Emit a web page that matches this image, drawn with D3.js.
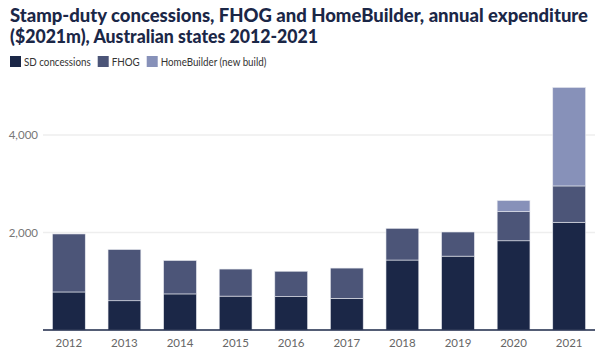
<!DOCTYPE html>
<html>
<head>
<meta charset="utf-8">
<script src="https://cdn.jsdelivr.net/npm/d3@7"></script>
<style>
  body { margin: 0; background: #fff; }
  svg { display: block; font-family: Lato, "Open Sans", sans-serif; }
</style>
</head>
<body>
<script>
// data ($2021m)
const years = ["2012","2013","2014","2015","2016","2017","2018","2019","2020","2021"];
const sdConcessions = [780, 600, 740, 695, 685, 650, 1435, 1515, 1830, 2210];
const fhog = [1190, 1050, 685, 555, 520, 620, 650, 495, 600, 745];
const homeBuilder = [0, 0, 0, 0, 0, 0, 0, 0, 225, 2020];
const yTicks = [2000, 4000];

const seriesKeys = ["SD concessions", "FHOG", "HomeBuilder (new build)"];
const colors = ["#1b2747", "#4c5578", "#8791b9"];

const W = 600, H = 354;
const margin = {top: 70, right: 5, bottom: 24, left: 43};

const rows = years.map((y, i) => ({
  year: y,
  "SD concessions": sdConcessions[i],
  "FHOG": fhog[i],
  "HomeBuilder (new build)": homeBuilder[i]
}));

const stack = d3.stack().keys(seriesKeys)(rows);

let svg = d3.select("body").append("svg")
  .attr("width", W).attr("height", H);

// title
svg.append("text")
  .attr("x", 10).attr("y", 22)
  .attr("textLength", 578).attr("lengthAdjust", "spacingAndGlyphs")
  .style("font-weight", "900").style("font-size", "18px").attr("fill", "#1b2747")
  .text("Stamp-duty concessions, FHOG and HomeBuilder, annual expenditure");
svg.append("text")
  .attr("x", 10).attr("y", 43)
  .attr("textLength", 308).attr("lengthAdjust", "spacingAndGlyphs")
  .style("font-weight", "900").style("font-size", "18px").attr("fill", "#1b2747")
  .text("($2021m), Australian states 2012-2021");

// legend
let lx = 10;
const legend = svg.append("g").attr("transform", "translate(0,56)");
seriesKeys.forEach((k, i) => {
  legend.append("rect").attr("x", lx).attr("y", 0).attr("width", 11).attr("height", 11)
    .attr("fill", colors[i]);
  const t = legend.append("text").attr("x", lx + 14).attr("y", 9.5)
    .style("font-size", "11px").attr("fill", "#333").text(k);
  const w = t.node().getComputedTextLength() * 0.89;
  t.attr("textLength", w).attr("lengthAdjust", "spacingAndGlyphs");
  lx += 14 + w + 7;
});

const x = d3.scaleBand()
  .domain(years)
  .range([margin.left, W - margin.right])
  .paddingInner(0.41)
  .paddingOuter(0.17);

const y = d3.scaleLinear()
  .domain([0, 4000])
  .range([330, 135]);

// gridlines
svg.append("g").selectAll("line").data(yTicks).join("line")
  .attr("x1", margin.left).attr("x2", W - margin.right)
  .attr("y1", d => y(d)).attr("y2", d => y(d))
  .attr("stroke", "#eeeeee").attr("stroke-width", 1.5);

// y labels
svg.append("g").selectAll("text").data(yTicks).join("text")
  .attr("x", 38).attr("y", d => y(d) + 4)
  .attr("text-anchor", "end")
  .style("font-size", "11.5px").attr("fill", "#777")
  .text(d => d3.format(",")(d));

// bars
svg.append("g").selectAll("g").data(stack).join("g")
  .attr("fill", (d, i) => colors[i])
  .selectAll("rect").data(d => d.filter(p => p[1] > p[0])).join("rect")
  .attr("x", d => x(d.data.year))
  .attr("width", x.bandwidth())
  .attr("y", d => y(d[1]))
  .attr("height", d => y(d[0]) - y(d[1]))
  .attr("stroke", "#e6e8ee").attr("stroke-width", 0.6);

// baseline
svg.append("line")
  .attr("x1", margin.left).attr("x2", W - margin.right)
  .attr("y1", y(0)).attr("y2", y(0))
  .attr("stroke", "#1b2747").attr("stroke-width", 1.5);

// x labels
svg.append("g").selectAll("text").data(years).join("text")
  .attr("x", d => x(d) + x.bandwidth() / 2).attr("y", 347)
  .attr("text-anchor", "middle")
  .style("font-size", "11.5px").attr("fill", "#666")
  .text(d => d);
</script>
</body>
</html>
